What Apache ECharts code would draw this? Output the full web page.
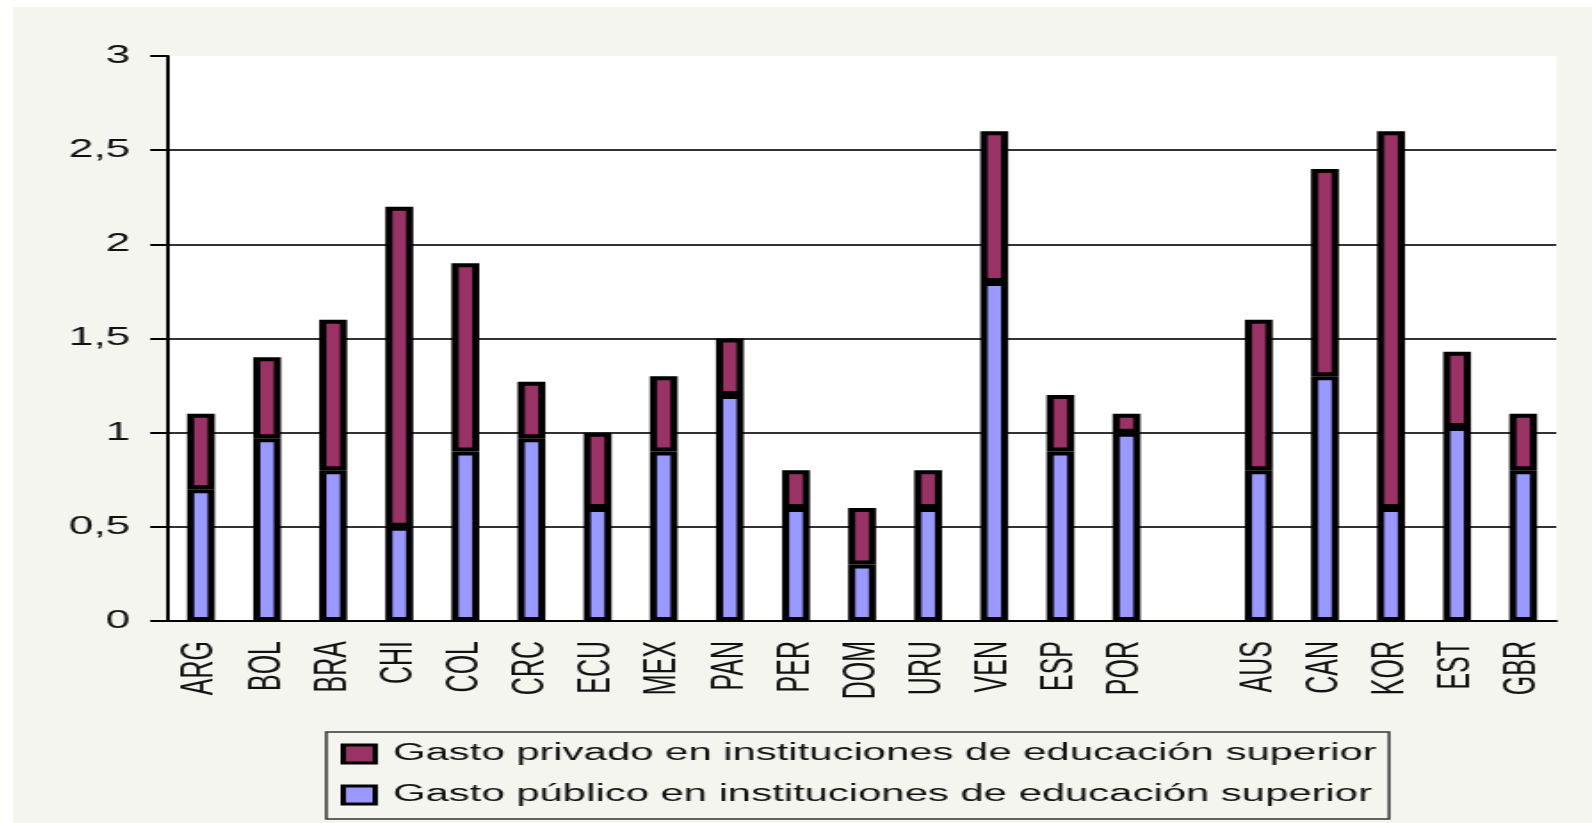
<!DOCTYPE html>
<html>
<head>
<meta charset="utf-8">
<script src="https://cdn.jsdelivr.net/npm/echarts@6/dist/echarts.min.js"></script>
<style>
  html, body { margin: 0; padding: 0; background: #fff; overflow: hidden; }
  /* the reference is stretched sideways, so the chart is drawn narrow and widened */
  #chart {
    position: absolute;
    left: 13px;
    top: 7px;
    width: 887px;
    height: 816px;
    transform: scaleX(1.78);
    transform-origin: 0 0;
  }
</style>
</head>
<body>
<div id="chart"></div>
<script>
var paises = ["ARG", "BOL", "BRA", "CHI", "COL", "CRC", "ECU", "MEX", "PAN", "PER", "DOM", "URU", "VEN", "ESP", "POR", "", "AUS", "CAN", "KOR", "EST", "GBR"];
var gastoPublico = [0.7, 0.97, 0.8, 0.5, 0.9, 0.97, 0.6, 0.9, 1.2, 0.6, 0.3, 0.6, 1.8, 0.9, 1.0, null, 0.8, 1.3, 0.6, 1.03, 0.8];
var gastoPrivado = [0.4, 0.43, 0.8, 1.7, 1.0, 0.3, 0.4, 0.4, 0.3, 0.2, 0.3, 0.2, 0.8, 0.3, 0.1, null, 0.8, 1.1, 2.0, 0.4, 0.3];
var nombrePrivado = "Gasto privado en instituciones de educación superior";
var nombrePublico = "Gasto público en instituciones de educación superior";

var fuente = "'Liberation Sans', Arial, sans-serif";
var chart = echarts.init(document.getElementById("chart"));
chart.setOption({
  backgroundColor: "#F5F5F0",
  animation: false,
  textStyle: { fontFamily: fuente },
  grid: {
    show: true,
    backgroundColor: "#fff",
    borderWidth: 0,
    left: 87,
    right: 20,
    top: 49,
    bottom: 202
  },
  legend: {
    orient: "vertical",
    left: 176,
    top: 725,
    selectedMode: false,
    data: [nombrePrivado, nombrePublico],
    icon: "rect",
    itemWidth: 18,
    itemHeight: 18,
    itemGap: 17,
    itemStyle: { borderColor: "#000", borderWidth: 3 },
    borderColor: "#333",
    borderWidth: 1.5,
    padding: [10, 7, 12, 8],
    textStyle: {
      fontFamily: fuente,
      fontSize: 23.5,
      color: "#111",
      padding: [0, 0, 0, 5]
    }
  },
  xAxis: {
    type: "category",
    data: paises,
    axisLine: { lineStyle: { color: "#000", width: 2 } },
    axisTick: { length: 8, lineStyle: { color: "#000", width: 1.5 } },
    axisLabel: {
      interval: 0,
      rotate: 90,
      margin: 20,
      fontSize: 25,
      color: "#111",
      fontFamily: fuente
    }
  },
  yAxis: {
    type: "value",
    min: 0,
    max: 3,
    interval: 0.5,
    axisLine: { show: true, lineStyle: { color: "#000", width: 2 } },
    axisTick: { show: true, length: 10, lineStyle: { color: "#000", width: 2 } },
    axisLabel: {
      margin: 21,
      fontSize: 25,
      color: "#111",
      fontFamily: fuente,
      formatter: function (v) {
        return String(v).replace(".", ",");
      }
    },
    splitLine: {
      show: true,
      showMaxLine: false,
      lineStyle: { color: "#333", width: 2 }
    }
  },
  series: [
    {
      name: nombrePublico,
      type: "bar",
      stack: "gasto",
      barWidth: "42%",
      itemStyle: { color: "#9999FF", borderColor: "#000", borderWidth: 4 },
      data: gastoPublico
    },
    {
      name: nombrePrivado,
      type: "bar",
      stack: "gasto",
      barWidth: "42%",
      itemStyle: { color: "#993366", borderColor: "#000", borderWidth: 4 },
      data: gastoPrivado
    }
  ]
});
</script>
</body>
</html>
